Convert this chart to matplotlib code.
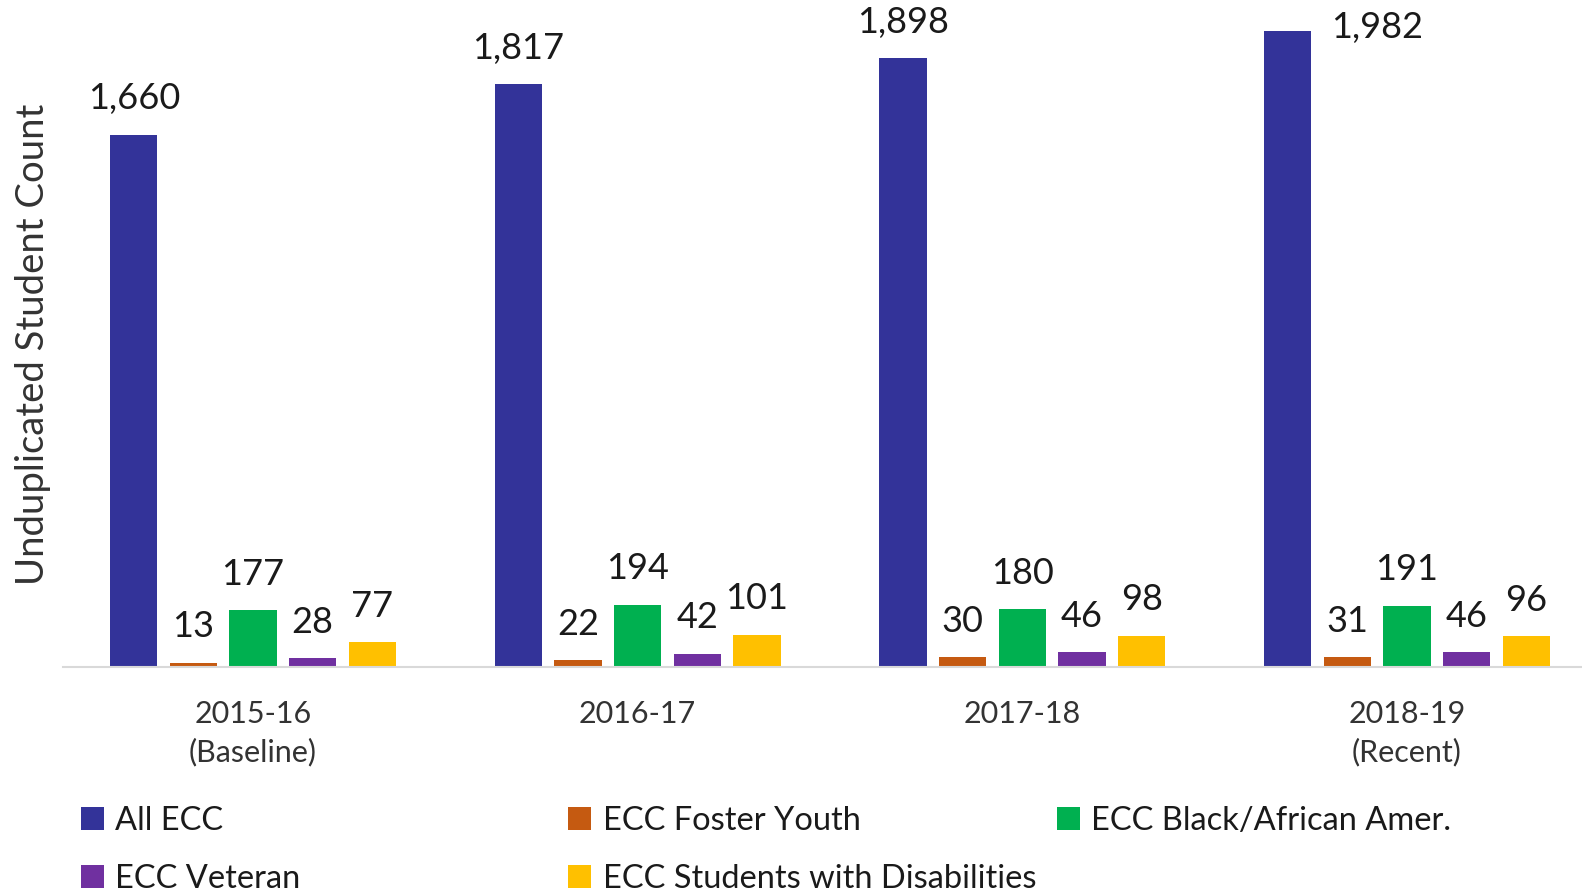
import numpy as np
import matplotlib
matplotlib.use('Agg')
import matplotlib.pyplot as plt

plt.rcParams['font.family'] = ['Lato', 'DejaVu Sans']

years = ['2015-16\n(Baseline)', '2016-17', '2017-18', '2018-19\n(Recent)']
series = ['All ECC', 'ECC Foster Youth', 'ECC Black/African Amer.',
          'ECC Veteran', 'ECC Students with Disabilities']
all_ecc = [1660, 1817, 1898, 1982]
foster = [13, 22, 30, 31]
black = [177, 194, 180, 191]
veteran = [28, 42, 46, 46]
disab = [77, 101, 98, 96]
colors = ['#333399', '#C55A11', '#00B050', '#7030A0', '#FFC000']

values = [all_ecc, foster, black, veteran, disab]

fig = plt.figure(figsize=(15.82, 8.96), dpi=100)
ax = fig.add_axes([63 / 1582, 1 - 667 / 896, 1 - 63 / 1582, 667 / 896])

x = np.arange(len(years))
step = 0.155
width = 0.123
ymax = 2080
bars = []
for i, (name, vals, c) in enumerate(zip(series, values, colors)):
    b = ax.bar(x + (i - 2) * step, vals, width, color=c, label=name)
    # a label that would not fit above the top of the axes goes beside its bar
    labels = [f'{v:,}' if v < 0.93 * ymax else '' for v in vals]
    ax.bar_label(b, labels=labels, padding=14, fontsize=26, color='#1a1a1a')
    for rect, v in zip(b, vals):
        if v >= 0.93 * ymax:
            ax.annotate(f'{v:,}', (rect.get_x() + rect.get_width(), v),
                        xytext=(14, 3), textcoords='offset points',
                        ha='left', va='center', fontsize=26, color='#1a1a1a')
    bars.append(b)

ax.set_xlim(-0.494, 3.455)
ax.set_ylim(0, ymax)
ax.set_xticks(x)
ax.set_xticklabels(years, fontsize=22, color='#333333', linespacing=1.4)
ax.tick_params(axis='x', length=0, pad=24)
ax.set_yticks([])
for s in ['top', 'right', 'left']:
    ax.spines[s].set_visible(False)
ax.spines['bottom'].set_color('#D9D9D9')
ax.spines['bottom'].set_linewidth(1.5)

fig.text(33 / 1568, 1 - 341 / 888, 'Unduplicated Student Count', rotation=90,
         ha='center', va='center', fontsize=27.5, color='#333333')

# legend laid out row by row in three fixed columns
cols = [([0, 3], 80), ([1, 4], 563), ([2], 1047)]
for idx, xpos in cols:
    fig.legend([bars[i] for i in idx], [series[i] for i in idx],
               loc='upper left', bbox_to_anchor=(xpos / 1568 - 0.008, 1 - 786 / 888),
               frameon=False, fontsize=23.5, handlelength=0.7, handleheight=0.7,
               handletextpad=0.35, labelspacing=0.85, borderaxespad=0,
               labelcolor='#1a1a1a')

fig.savefig('out.png', dpi=100)
